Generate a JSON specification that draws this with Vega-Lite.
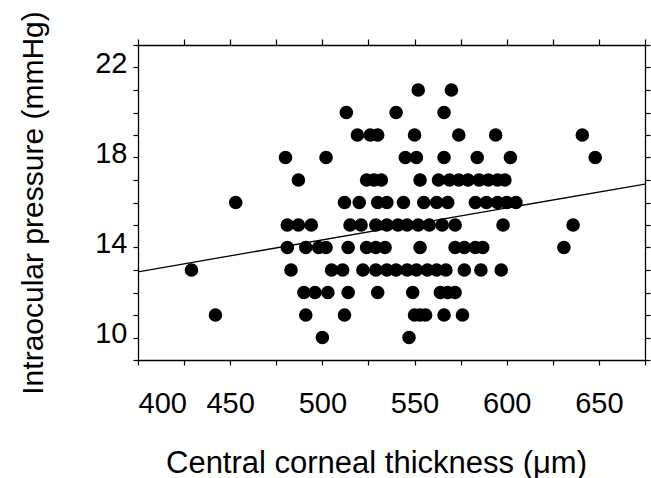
{
  "$schema": "https://vega.github.io/schema/vega-lite/v6.json",
  "autosize": "none",
  "width": 507,
  "height": 315,
  "padding": {"left": 138, "top": 45, "right": 6, "bottom": 118},
  "background": "white",
  "config": {
    "view": {"stroke": null},
    "axis": {
      "grid": false,
      "domainColor": "black",
      "domainWidth": 1.3,
      "tickColor": "black",
      "tickWidth": 1.2,
      "tickSize": 5,
      "labelColor": "black",
      "titleColor": "black",
      "labelFont": "Liberation Sans",
      "titleFont": "Liberation Sans",
      "titleFontWeight": "normal"
    }
  },
  "layer": [
    {
      "data": {
        "values": [
          {"cct": 552, "iop": 21}, {"cct": 570, "iop": 21},
          {"cct": 513, "iop": 20}, {"cct": 540, "iop": 20}, {"cct": 566, "iop": 20},
          {"cct": 519, "iop": 19}, {"cct": 526, "iop": 19}, {"cct": 530, "iop": 19}, {"cct": 550, "iop": 19}, {"cct": 574, "iop": 19}, {"cct": 594, "iop": 19}, {"cct": 641, "iop": 19},
          {"cct": 480, "iop": 18}, {"cct": 502, "iop": 18}, {"cct": 545, "iop": 18}, {"cct": 551, "iop": 18}, {"cct": 566, "iop": 18}, {"cct": 584, "iop": 18}, {"cct": 602, "iop": 18}, {"cct": 648, "iop": 18},
          {"cct": 487, "iop": 17}, {"cct": 524, "iop": 17}, {"cct": 528, "iop": 17}, {"cct": 532, "iop": 17}, {"cct": 553, "iop": 17}, {"cct": 563, "iop": 17}, {"cct": 569, "iop": 17}, {"cct": 574, "iop": 17}, {"cct": 579, "iop": 17}, {"cct": 585, "iop": 17}, {"cct": 590, "iop": 17}, {"cct": 595, "iop": 17}, {"cct": 599, "iop": 17},
          {"cct": 453, "iop": 16}, {"cct": 512, "iop": 16}, {"cct": 520, "iop": 16}, {"cct": 530, "iop": 16}, {"cct": 535, "iop": 16}, {"cct": 544, "iop": 16}, {"cct": 555, "iop": 16}, {"cct": 562, "iop": 16}, {"cct": 568, "iop": 16}, {"cct": 583, "iop": 16}, {"cct": 589, "iop": 16}, {"cct": 595, "iop": 16}, {"cct": 600, "iop": 16}, {"cct": 605, "iop": 16},
          {"cct": 481, "iop": 15}, {"cct": 487, "iop": 15}, {"cct": 494, "iop": 15}, {"cct": 515, "iop": 15}, {"cct": 521, "iop": 15}, {"cct": 529, "iop": 15}, {"cct": 535, "iop": 15}, {"cct": 541, "iop": 15}, {"cct": 546, "iop": 15}, {"cct": 552, "iop": 15}, {"cct": 558, "iop": 15}, {"cct": 565, "iop": 15}, {"cct": 572, "iop": 15}, {"cct": 598, "iop": 15}, {"cct": 636, "iop": 15},
          {"cct": 481, "iop": 14}, {"cct": 491, "iop": 14}, {"cct": 498, "iop": 14}, {"cct": 502, "iop": 14}, {"cct": 514, "iop": 14}, {"cct": 524, "iop": 14}, {"cct": 529, "iop": 14}, {"cct": 534, "iop": 14}, {"cct": 553, "iop": 14}, {"cct": 572, "iop": 14}, {"cct": 577, "iop": 14}, {"cct": 583, "iop": 14}, {"cct": 587, "iop": 14}, {"cct": 631, "iop": 14},
          {"cct": 429, "iop": 13}, {"cct": 483, "iop": 13}, {"cct": 505, "iop": 13}, {"cct": 511, "iop": 13}, {"cct": 522, "iop": 13}, {"cct": 529, "iop": 13}, {"cct": 535, "iop": 13}, {"cct": 540, "iop": 13}, {"cct": 546, "iop": 13}, {"cct": 551, "iop": 13}, {"cct": 557, "iop": 13}, {"cct": 562, "iop": 13}, {"cct": 567, "iop": 13}, {"cct": 577, "iop": 13}, {"cct": 586, "iop": 13}, {"cct": 597, "iop": 13},
          {"cct": 490, "iop": 12}, {"cct": 496, "iop": 12}, {"cct": 503, "iop": 12}, {"cct": 514, "iop": 12}, {"cct": 530, "iop": 12}, {"cct": 549, "iop": 12}, {"cct": 564, "iop": 12}, {"cct": 568, "iop": 12}, {"cct": 572, "iop": 12},
          {"cct": 442, "iop": 11}, {"cct": 491, "iop": 11}, {"cct": 512, "iop": 11}, {"cct": 550, "iop": 11}, {"cct": 553, "iop": 11}, {"cct": 556, "iop": 11}, {"cct": 566, "iop": 11}, {"cct": 576, "iop": 11},
          {"cct": 500, "iop": 10}, {"cct": 547, "iop": 10}
        ]
      },
      "mark": {"type": "circle", "color": "black", "opacity": 1, "size": 185},
      "encoding": {
        "x": {
          "field": "cct", "type": "quantitative",
          "scale": {"domain": [400, 675], "nice": false, "zero": false},
          "axis": {
            "orient": "bottom",
            "title": "Central corneal thickness (μm)",
            "values": [400, 425, 450, 475, 500, 525, 550, 575, 600, 625, 650, 675],
            "labelExpr": "datum.value % 50 === 0 && datum.value < 675 ? datum.label : ''",
            "labelFontSize": 29,
            "labelPadding": 24,
            "labelFlush": true,
            "labelFlushOffset": 0,
            "labelOverlap": false,
            "titleFontSize": 31,
            "titleX": 238,
            "titleY": 112,
            "titleAlign": "center",
            "titleBaseline": "alphabetic",
            "encode": {
              "labels": {
                "update": {
                  "dx": {"signal": "datum.value == 500 ? -3 : datum.value == 550 ? -4 : datum.value == 600 ? -8 : datum.value == 650 ? -15 : 0"}
                }
              }
            }
          }
        },
        "y": {
          "field": "iop", "type": "quantitative",
          "scale": {"domain": [9, 23], "nice": false, "zero": false},
          "axis": {
            "orient": "left",
            "title": "Intraocular pressure (mmHg)",
            "values": [9, 10, 11, 12, 13, 14, 15, 16, 17, 18, 19, 20, 21, 22, 23],
            "labelExpr": "(datum.value == 10 || datum.value == 14 || datum.value == 18 || datum.value == 22) ? datum.label : ''",
            "labelFontSize": 29,
            "labelPadding": 6,
            "labelOffset": -4,
            "labelOverlap": false,
            "titleFontSize": 30,
            "titleAngle": 270,
            "titleX": -96,
            "titleY": 157.5,
            "titleAlign": "center",
            "titleBaseline": "alphabetic"
          }
        }
      }
    },
    {
      "data": {
        "values": [
          {"cct": 400, "iop": 12.92},
          {"cct": 675, "iop": 16.82}
        ]
      },
      "mark": {"type": "line", "color": "black", "strokeWidth": 1.3, "clip": true},
      "encoding": {
        "x": {
          "field": "cct", "type": "quantitative",
          "scale": {"domain": [400, 675], "nice": false, "zero": false},
          "axis": {
            "orient": "top", "title": null, "labels": false,
            "values": [400, 425, 450, 475, 500, 525, 550, 575, 600, 625, 650, 675],
            "tickSize": 6
          }
        },
        "y": {
          "field": "iop", "type": "quantitative",
          "scale": {"domain": [9, 23], "nice": false, "zero": false},
          "axis": {
            "orient": "right", "title": null, "labels": false,
            "values": [9, 10, 11, 12, 13, 14, 15, 16, 17, 18, 19, 20, 21, 22, 23]
          }
        }
      }
    }
  ],
  "resolve": {"axis": {"x": "independent", "y": "independent"}}
}
